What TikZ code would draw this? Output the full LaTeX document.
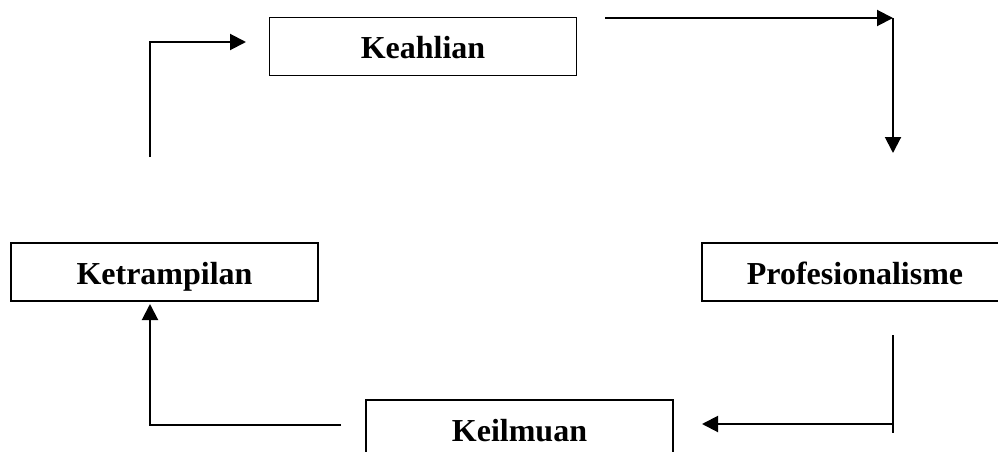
\documentclass[tikz,border=0pt]{standalone}
\usepackage{fontspec}
\setmainfont{Liberation Serif}
\usetikzlibrary{arrows.meta}
\begin{document}
\begin{tikzpicture}[x=1pt,y=-1pt,
  box/.style={draw=black,line width=1.4pt,inner sep=0pt,minimum width=307pt,minimum height=58pt,
    text height=24pt,text depth=0pt,
    font=\fontsize{32}{38}\selectfont\bfseries},
  conn/.style={line width=2pt,-{Triangle[length=16pt,width=16pt]}},
  plain/.style={line width=1.5pt}]
\useasboundingbox (0,0) rectangle (998,452);
\node[box] (keahlian) at (423,46.75) {Keahlian};
\node[box] (ketrampilan) at (164.5,272) {Ketrampilan};
\node[box,minimum width=306pt] (prof) at (855,272) {Profesionalisme};
\node[box] (keilmuan) at (519.5,429) {Keilmuan};
% connector coordinates
\coordinate (a1) at (605,18);
\coordinate (a2) at (893,18);
\coordinate (a3) at (893,153);
\coordinate (b1) at (893,335);
\coordinate (b2) at (893,433);
\coordinate (b3) at (893,424);
\coordinate (b4) at (702,424);
\coordinate (c1) at (341,425);
\coordinate (c2) at (150,425);
\coordinate (c3) at (150,304);
\coordinate (d1) at (150,157);
\coordinate (d2) at (150,42);
\coordinate (d3) at (246,42);
% Keahlian -> Profesionalisme
\draw[conn] (a1) -- (a2);
\draw[conn] (a2) -- (a3);
% Profesionalisme -> Keilmuan
\draw[plain] (b1) -- (b2);
\draw[conn] (b3) -- (b4);
% Keilmuan -> Ketrampilan
\draw[conn] (c1) -- (c2) -- (c3);
% Ketrampilan -> Keahlian
\draw[conn] (d1) -- (d2) -- (d3);
\end{tikzpicture}
\end{document}
